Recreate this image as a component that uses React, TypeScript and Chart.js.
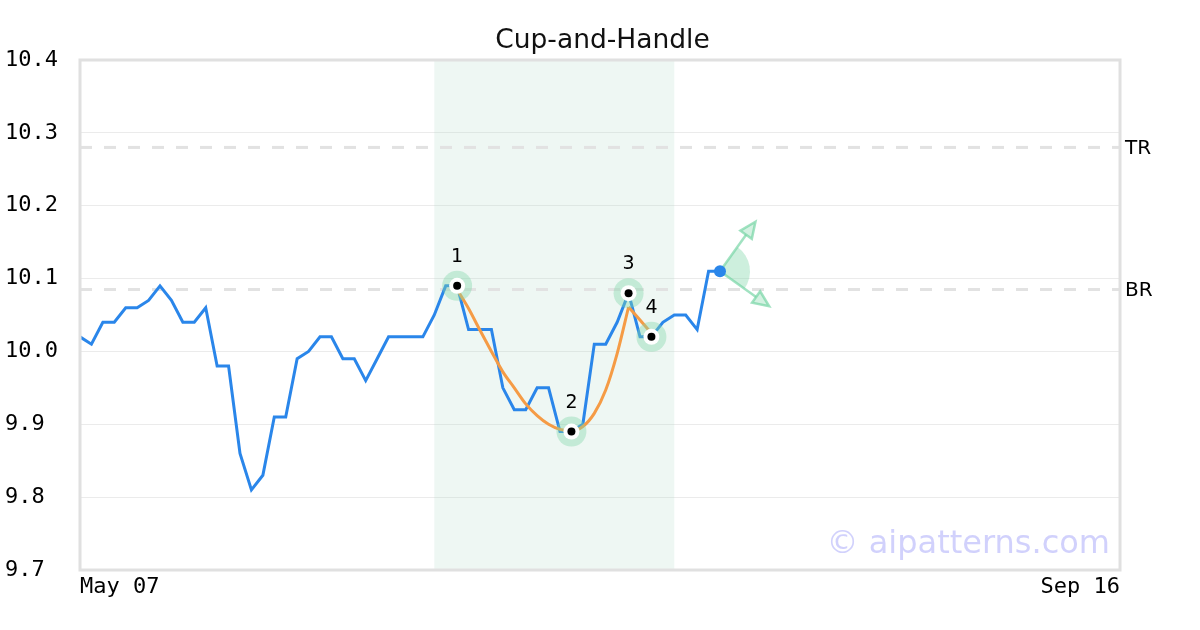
import React, { useEffect, useRef } from "react";
import { Chart, registerables } from "chart.js";

Chart.register(...registerables);

// ---- data ----
const titleText = "Cup-and-Handle";
const xTickPositions = [0, 91];
const xTickLabels = ["May 07", "Sep 16"];
const yMin = 9.7;
const yMax = 10.4;
const yStep = 0.1;

const priceValues = [
  10.02, 10.01, 10.04, 10.04, 10.06, 10.06, 10.07, 10.09, 10.07, 10.04,
  10.04, 10.06, 9.98, 9.98, 9.86, 9.81, 9.83, 9.91, 9.91, 9.99,
  10.0, 10.02, 10.02, 9.99, 9.99, 9.96, 9.99, 10.02, 10.02, 10.02,
  10.02, 10.05, 10.09, 10.09, 10.03, 10.03, 10.03, 9.95, 9.92, 9.92,
  9.95, 9.95, 9.89, 9.89, 9.9, 10.01, 10.01, 10.04, 10.08, 10.02,
  10.02, 10.04, 10.05, 10.05, 10.03, 10.11, 10.11,
];

const cupIndex = [33, 34, 35, 36, 37, 38, 39, 40, 41, 42, 43, 44, 45, 46, 47, 48];
const cupValues = [
  10.085, 10.059, 10.029, 10.0, 9.972, 9.95, 9.928, 9.912, 9.9, 9.893,
  9.891, 9.897, 9.915, 9.947, 9.997, 10.061,
];
const handleIndex = [48, 49, 50];
const handleValues = [10.061, 10.043, 10.025];

const markerIndex = [33, 43, 48, 50];
const markerValues = [10.09, 9.89, 10.08, 10.02];
const markerLabels = ["1", "2", "3", "4"];

const levelNames = ["TR", "BR"];
const levelValues = [10.28, 10.085];

const zoneStart = 31;
const zoneEnd = 52;

const arrowTargetX = [59.1, 60.3];
const arrowTargetY = [10.178, 10.062];

const watermark = "© aipatterns.com";

// ---- helpers ----
const toPoints = (xs: number[], ys: number[]) => xs.map((x, i) => ({ x, y: ys[i] }));
const pricePoints = priceValues.map((y, i) => ({ x: i, y }));
const lastIdx = priceValues.length - 1;

const GREEN_FILL = "rgba(130,215,170,0.4)";
const GREEN_LINE = "rgba(110,210,160,0.65)";

const overlayPlugin = {
  id: "overlay",
  beforeDatasetsDraw(chart: any) {
    const { ctx, chartArea: a, scales } = chart;
    const x = scales.x;
    const y = scales.y;
    ctx.save();
    // shaded pattern zone
    const x0 = x.getPixelForValue(zoneStart);
    const x1 = x.getPixelForValue(zoneEnd);
    ctx.fillStyle = "rgba(170,215,195,0.2)";
    ctx.fillRect(x0, a.top, x1 - x0, a.bottom - a.top);

    // level lines
    ctx.strokeStyle = "#e2e2e2";
    ctx.lineWidth = 3;
    ctx.setLineDash([12, 12]);
    levelValues.forEach((v) => {
      const py = y.getPixelForValue(v);
      ctx.beginPath();
      ctx.moveTo(a.left, py);
      ctx.lineTo(a.right, py);
      ctx.stroke();
    });
    ctx.setLineDash([]);

    // level labels
    ctx.fillStyle = "#000";
    ctx.font = '20px "DejaVu Sans"';
    ctx.textAlign = "left";
    ctx.textBaseline = "middle";
    levelNames.forEach((n, i) => {
      ctx.fillText(n, a.right + 5, y.getPixelForValue(levelValues[i]) + 1);
    });

    // projection wedge + arrows from last point
    const ox = x.getPixelForValue(lastIdx);
    const oy = y.getPixelForValue(priceValues[lastIdx]);
    const tips = arrowTargetX.map((tx, i) => ({
      x: x.getPixelForValue(tx),
      y: y.getPixelForValue(arrowTargetY[i]),
    }));
    const angs = tips.map((t) => Math.atan2(t.y - oy, t.x - ox));
    ctx.fillStyle = GREEN_FILL;
    ctx.beginPath();
    ctx.moveTo(ox, oy);
    ctx.arc(ox, oy, 30, angs[0], angs[1]);
    ctx.closePath();
    ctx.fill();

    tips.forEach((t, i) => {
      const ang = angs[i];
      const len = 16;
      const hw = 7;
      const bx = t.x - Math.cos(ang) * len;
      const by = t.y - Math.sin(ang) * len;
      ctx.strokeStyle = GREEN_LINE;
      ctx.lineWidth = 2.5;
      ctx.beginPath();
      ctx.moveTo(ox, oy);
      ctx.lineTo(bx, by);
      ctx.stroke();
      ctx.beginPath();
      ctx.moveTo(t.x, t.y);
      ctx.lineTo(bx + Math.sin(ang) * hw, by - Math.cos(ang) * hw);
      ctx.lineTo(bx - Math.sin(ang) * hw, by + Math.cos(ang) * hw);
      ctx.closePath();
      ctx.fillStyle = "rgba(130,215,170,0.35)";
      ctx.fill();
      ctx.lineWidth = 2.5;
      ctx.stroke();
    });
    ctx.restore();
  },
  afterDatasetsDraw(chart: any) {
    const { ctx, chartArea: a, scales } = chart;
    const x = scales.x;
    const y = scales.y;
    ctx.save();
    // marker labels
    ctx.fillStyle = "#000";
    ctx.font = '19px "DejaVu Sans"';
    ctx.textAlign = "center";
    ctx.textBaseline = "middle";
    markerLabels.forEach((l, i) => {
      ctx.fillText(l, x.getPixelForValue(markerIndex[i]), y.getPixelForValue(markerValues[i]) - 29);
    });
    // plot border
    ctx.strokeStyle = "#e0e0e0";
    ctx.lineWidth = 3;
    ctx.strokeRect(a.left, a.top, a.right - a.left, a.bottom - a.top);
    // watermark
    ctx.fillStyle = "rgba(185,185,250,0.65)";
    ctx.font = '32px "DejaVu Sans"';
    ctx.textAlign = "right";
    ctx.textBaseline = "alphabetic";
    ctx.fillText(watermark, a.right - 10, a.bottom - 17);
    ctx.restore();
  },
};

export default function App() {
  const canvasRef = useRef<HTMLCanvasElement | null>(null);

  useEffect(() => {
    if (!canvasRef.current) return;
    const chart = new Chart(canvasRef.current, {
      type: "line",
      data: {
        datasets: [
          {
            label: "markers-dot",
            data: toPoints(markerIndex, markerValues),
            showLine: false,
            pointRadius: 4,
            pointBackgroundColor: "#000",
            pointBorderWidth: 0,
            order: 0,
          },
          {
            label: "markers-ring",
            data: toPoints(markerIndex, markerValues),
            showLine: false,
            pointRadius: 8,
            pointBackgroundColor: "#fff",
            pointBorderWidth: 0,
            order: 1,
          },
          {
            label: "markers-halo",
            data: toPoints(markerIndex, markerValues),
            showLine: false,
            pointRadius: 15,
            pointBackgroundColor: GREEN_FILL,
            pointBorderWidth: 0,
            order: 2,
          },
          {
            label: "handle",
            data: toPoints(handleIndex, handleValues),
            borderColor: "#f59b45",
            borderWidth: 3,
            pointRadius: 0,
            tension: 0,
            order: 3,
          },
          {
            label: "cup",
            data: toPoints(cupIndex, cupValues),
            borderColor: "#f59b45",
            borderWidth: 3,
            pointRadius: 0,
            tension: 0.4,
            cubicInterpolationMode: "monotone",
            order: 4,
          },
          {
            label: "price",
            data: pricePoints,
            borderColor: "#2a86ea",
            borderWidth: 3,
            tension: 0,
            pointRadius: (c: any) => (c.dataIndex === lastIdx ? 6 : 0),
            pointBackgroundColor: "#2a86ea",
            pointBorderWidth: 0,
            order: 5,
          },
        ],
      },
      options: {
        animation: false,
        responsive: true,
        maintainAspectRatio: false,
        events: [],
        layout: { padding: { left: 5, right: 0, top: 0, bottom: 0 } },
        plugins: {
          legend: { display: false },
          tooltip: { enabled: false },
          title: {
            display: true,
            text: titleText,
            color: "#111",
            font: { family: "DejaVu Sans", size: 26.5, weight: "normal", lineHeight: 1.2 },
            padding: { top: 25, bottom: 3.2 },
          },
        },
        scales: {
          x: {
            type: "linear",
            min: xTickPositions[0],
            max: xTickPositions[xTickPositions.length - 1],
            grid: { display: false, drawTicks: false },
            border: { display: false },
            afterBuildTicks: (s: any) => {
              s.ticks = xTickPositions.map((v) => ({ value: v }));
            },
            afterFit: (s: any) => {
              s.height = 60;
            },
            ticks: {
              align: "inner",
              autoSkip: false,
              maxRotation: 0,
              minRotation: 0,
              padding: 4,
              color: "#000",
              font: { family: "DejaVu Sans Mono", size: 22 },
              callback: (v: any) => {
                const i = xTickPositions.indexOf(Number(v));
                return i >= 0 ? xTickLabels[i] : "";
              },
            },
          },
          y: {
            type: "linear",
            min: yMin,
            max: yMax,
            grid: { color: "#ebebeb", lineWidth: 1, drawTicks: false },
            border: { display: false },
            afterFit: (s: any) => {
              s.width = 75;
            },
            ticks: {
              stepSize: yStep,
              crossAlign: "far",
              padding: 10,
              color: "#000",
              font: { family: "DejaVu Sans Mono", size: 22 },
              callback: (v: any) => Number(v).toFixed(1),
            },
          },
          yRight: {
            type: "linear",
            position: "right",
            min: yMin,
            max: yMax,
            grid: { display: false, drawTicks: false },
            border: { display: false },
            ticks: { display: false },
            afterFit: (s: any) => {
              s.width = 80;
            },
          },
        },
      },
      plugins: [overlayPlugin],
    } as any);
    return () => chart.destroy();
  }, []);

  return (
    <div style={{ position: "absolute", left: 0, top: 0, width: 1200, height: 630, background: "#fff" }}>
      <canvas ref={canvasRef} />
    </div>
  );
}
